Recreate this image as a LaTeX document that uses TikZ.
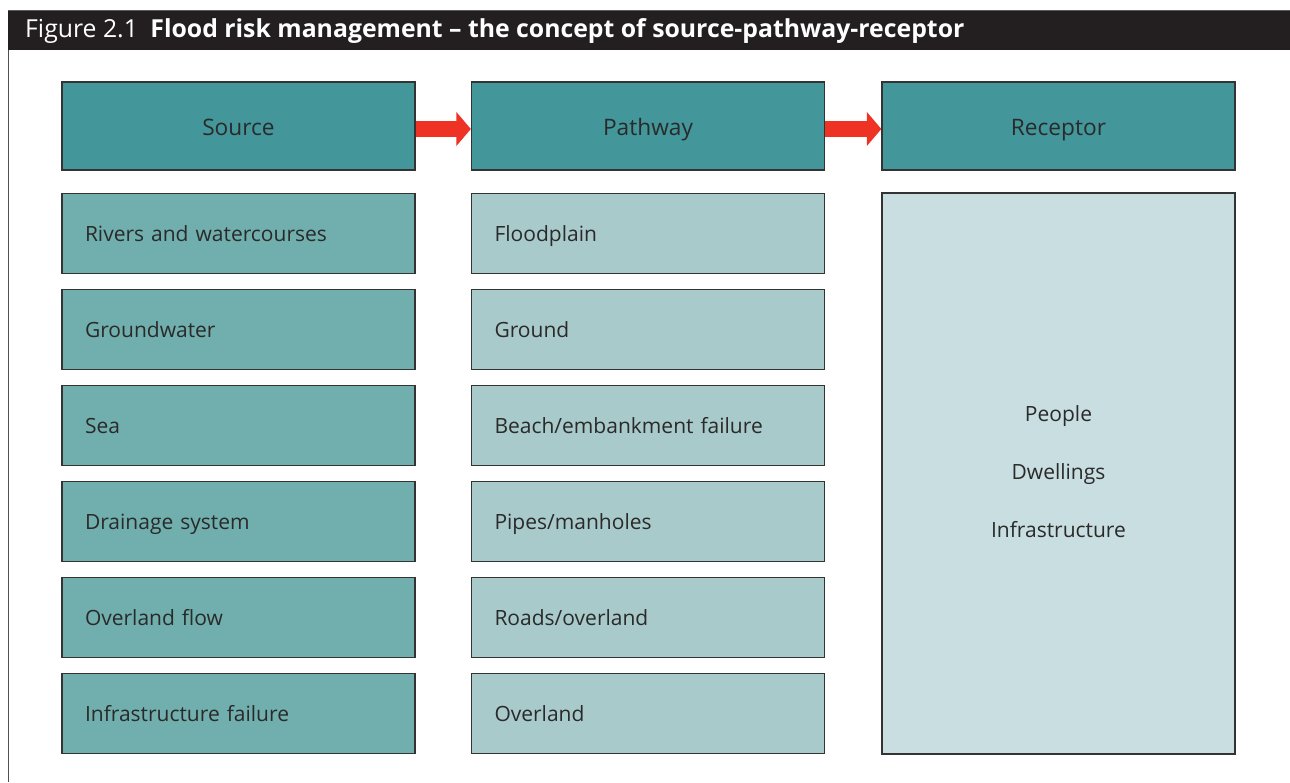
\documentclass[tikz,border=0pt]{standalone}
\usepackage{fontspec}
\setmainfont{Open Sans}
\usetikzlibrary{arrows.meta}
\definecolor{hdrfill}{HTML}{43979A}
\definecolor{srcfill}{HTML}{70AFAD}
\definecolor{pwfill}{HTML}{A9CACB}
\definecolor{rcfill}{HTML}{C9DEE0}
\definecolor{edge}{HTML}{333333}
\definecolor{ink}{HTML}{2A2A2A}
\definecolor{barfill}{HTML}{231F20}
\definecolor{arrowred}{HTML}{EE3224}
\tikzset{
  box/.style={draw=edge, line width=1.3pt, inner sep=0pt, text=ink},
  hdr/.style={box, fill=hdrfill, minimum width=353pt, minimum height=88pt,
    font=\fontsize{22.7}{26}\selectfont, text height=18pt, text depth=0pt},
  row/.style={box, minimum height=80pt, inner xsep=23pt, text width=307pt, align=left,
    font=\fontsize{21}{25}\selectfont, text height=16pt, text depth=0pt},
  srcrow/.style={row, fill=srcfill},
  pwrow/.style={row, fill=pwfill},
  flow/.style={draw=arrowred, line width=15.6pt, -{Triangle[length=14.4pt, width=33pt]}}
}
\begin{document}
\begin{tikzpicture}[x=1pt, y=-1pt]
\useasboundingbox (0,0) rectangle (1290,782);
\fill[white] (0,0) rectangle (1290,782);
% frame
\draw[draw={rgb,255:red,80;green,80;blue,80}, line width=1.5pt] (8.5,10) -- (8.5,782);
\fill[barfill] (8,10) rectangle (1290,50);
\draw[draw={rgb,255:red,90;green,90;blue,90}, line width=1pt] (8,10.5) -- (1290,10.5);
\node[anchor=base west, text=white, inner sep=0pt, font=\fontsize{24.8}{28}\selectfont] (title) at (25,37)
  {Figure 2.1\hspace{0.5em}\textbf{Flood risk management -- the concept of source-pathway-receptor}};
% headers
\node[hdr] (src) at (238.5,126) {Source};
\node[hdr] (pw)  at (648,126) {Pathway};
\node[hdr] (rc)  at (1058.5,126) {Receptor};
% arrows
\draw[flow] ([yshift=-3pt]src.east) -- ([yshift=-3pt]pw.west);
\draw[flow] ([yshift=-3pt]pw.east) -- ([yshift=-3pt]rc.west);
% source rows
\node[srcrow] (s1) at (238.5,233.5) {Rivers and watercourses};
\node[srcrow] (s2) at (238.5,329.5) {Groundwater};
\node[srcrow] (s3) at (238.5,425.5) {Sea};
\node[srcrow] (s4) at (238.5,521.5) {Drainage system};
\node[srcrow] (s5) at (238.5,617.5) {Overland flow};
\node[srcrow] (s6) at (238.5,713.5) {Infrastructure failure};
% pathway rows
\node[pwrow] (p1) at (648,233.5) {Floodplain};
\node[pwrow] (p2) at (648,329.5) {Ground};
\node[pwrow] (p3) at (648,425.5) {Beach/embankment failure};
\node[pwrow] (p4) at (648,521.5) {Pipes/manholes};
\node[pwrow] (p5) at (648,617.5) {Roads/overland};
\node[pwrow] (p6) at (648,713.5) {Overland};
% receptor
\node[box, fill=rcfill, minimum width=353pt, minimum height=561pt, align=center, text depth=4.5pt,
  font=\fontsize{21}{58}\selectfont] (r1) at (1058.5,473.5) {People\\Dwellings\\Infrastructure};
\end{tikzpicture}
\end{document}
